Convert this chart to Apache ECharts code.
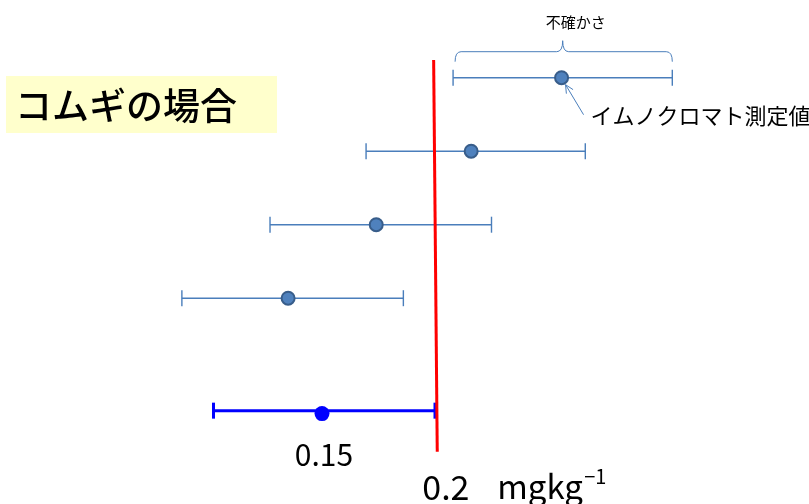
<!DOCTYPE html>
<html>
<head>
<meta charset="utf-8">
<script src="https://cdn.jsdelivr.net/npm/echarts@6/dist/echarts.min.js"></script>
<style>
html, body { margin: 0; padding: 0; background: #fff; }
#main { width: 809px; height: 504px; }
</style>
</head>
<body>
<div id="main"></div>
<script>
// データ（イムノクロマト測定値と不確かさ）
const rowY = [5, 4, 3, 2];
const centers = [0.256, 0.216, 0.174, 0.135];
const lows = [0.208, 0.1695, 0.127, 0.088];
const highs = [0.305, 0.2665, 0.225, 0.186];

// 基準（下の青いバー）
const refY = 0.47;
const refCenter = 0.15;
const refLow = 0.102;
const refHigh = 0.2;

// 基準値 0.2 の赤線
const limitLine = [[0.1994, 5.24], [0.201, -0.09]];

const titleText = 'コムギの場合';
const braceText = '不確かさ';
const pointText = 'イムノクロマト測定値';
const refLabel = '0.15';
const limitLabel = '0.2';
const unitText = 'mgkg';
const unitSup = '−1';

const FONT = '"Noto Sans CJK JP", "Noto Sans", sans-serif';
const BAR = '#4a7ebb';

let chart = echarts.init(document.getElementById('main'));

// 誤差棒の描画
const errItem = (color, width, cap) => (params, api) => {
    const a = api.coord([api.value(0), api.value(2)]);
    const b = api.coord([api.value(1), api.value(2)]);
    const style = { stroke: color, lineWidth: width };
    return {
        type: 'group',
        children: [
            { type: 'line', shape: { x1: a[0], y1: a[1], x2: b[0], y2: b[1] }, style: style },
            { type: 'line', shape: { x1: a[0], y1: a[1] - cap, x2: a[0], y2: a[1] + cap }, style: style },
            { type: 'line', shape: { x1: b[0], y1: b[1] - cap, x2: b[0], y2: b[1] + cap }, style: style }
        ]
    };
};

chart.setOption({
    animation: false,
    grid: { left: 96, width: 678, top: 4.2, height: 441 },
    xAxis: { type: 'value', min: 0.05, max: 0.35, show: false },
    yAxis: { type: 'value', min: 0, max: 6, show: false },
    series: [
        {
            type: 'custom',
            clip: false,
            renderItem: errItem(BAR, 1.4, 8),
            data: rowY.map((y, i) => [lows[i], highs[i], y]),
            z: 2
        },
        {
            type: 'scatter',
            symbolSize: 13,
            itemStyle: { color: '#4f81bd', borderColor: '#385d8a', borderWidth: 2, opacity: 1 },
            data: rowY.map((y, i) => [centers[i], y]),
            z: 4
        },
        {
            type: 'custom',
            clip: false,
            renderItem: errItem('#0000ff', 3, 8),
            data: [[refLow, refHigh, refY]],
            z: 2
        },
        {
            type: 'scatter',
            symbolSize: 15,
            itemStyle: { color: '#0000ff', opacity: 1 },
            data: [[refCenter, refY - 0.04]],
            z: 4
        },
        {
            type: 'line',
            clip: false,
            symbol: 'none',
            lineStyle: { color: '#ff0000', width: 3 },
            data: limitLine,
            z: 3
        }
    ]
});

// 注釈の位置はデータ座標から求める
const px = (v) => chart.convertToPixel({ gridIndex: 0 }, v);
const p1 = px([centers[0], rowY[0]]);
const l1 = px([lows[0], rowY[0]]);
const h1 = px([highs[0], rowY[0]]);
const mid = (l1[0] + h1[0]) / 2;
const bot = p1[1] - 16, hy = p1[1] - 26, tip = p1[1] - 37;
const L = l1[0] + 2, R = h1[0];
const bs = { stroke: BAR, lineWidth: 1, fill: null };

// 波括弧（曲線4本＋直線2本）
const curve = (x1, y1, cx, cy, x2, y2) => ({
    type: 'bezierCurve', shape: { x1: x1, y1: y1, cpx1: cx, cpy1: cy, x2: x2, y2: y2 }, style: bs
});
const brace = [
    curve(L, bot, L, hy, L + 6, hy),
    { type: 'line', shape: { x1: L + 6, y1: hy, x2: mid - 6, y2: hy }, style: bs },
    curve(mid - 6, hy, mid, hy, mid, tip),
    curve(mid, tip, mid, hy, mid + 6, hy),
    { type: 'line', shape: { x1: mid + 6, y1: hy, x2: R - 6, y2: hy }, style: bs },
    curve(R - 6, hy, R, hy, R, bot)
];

// 矢印
const ax0 = p1[0] + 22, ay0 = p1[1] + 37;
const ax1 = p1[0] + 4, ay1 = p1[1] + 7;
const ang = Math.atan2(ay1 - ay0, ax1 - ax0);
const hl = 9, ha = 0.45;
const wing = (s) => [ax1 - hl * Math.cos(ang + s * ha), ay1 - hl * Math.sin(ang + s * ha)];
const w1 = wing(1), w2 = wing(-1);

const rp = px([refCenter, refY]);
const lb = px(limitLine[1]);

chart.setOption({
    graphic: [
        { type: 'rect', shape: { x: 6, y: 76, width: 271, height: 57 }, style: { fill: '#ffffcc' }, z: 0 },
        { type: 'text', x: 15, y: 106, style: { text: titleText, font: '500 37px ' + FONT, fill: '#000', verticalAlign: 'middle' } }
    ].concat(brace).concat([
        { type: 'text', x: mid + 13, y: tip - 18, style: { text: braceText, font: '15px ' + FONT, fill: '#000', align: 'center', verticalAlign: 'middle' } },
        { type: 'line', shape: { x1: ax0, y1: ay0, x2: ax1, y2: ay1 }, style: bs },
        { type: 'polyline', shape: { points: [w1, [ax1, ay1], w2] }, style: bs },
        { type: 'text', x: p1[0] + 29, y: p1[1] + 38, style: { text: pointText, font: '22px ' + FONT, fill: '#000', verticalAlign: 'middle' } },
        { type: 'text', x: rp[0] + 2, y: rp[1] + 44, style: { text: refLabel, font: '30px ' + FONT, fill: '#000', align: 'center', verticalAlign: 'middle' } },
        { type: 'text', x: lb[0] - 15, y: lb[1] + 35, style: { text: limitLabel, font: '34px ' + FONT, fill: '#000', verticalAlign: 'middle' } },
        { type: 'text', x: lb[0] + 60, y: lb[1] + 35, style: { text: unitText, font: '33px ' + FONT, fill: '#000', verticalAlign: 'middle' } },
        { type: 'text', x: lb[0] + 147, y: lb[1] + 25, style: { text: unitSup, font: '20px ' + FONT, fill: '#000', verticalAlign: 'middle' } }
    ])
});
</script>
</body>
</html>
